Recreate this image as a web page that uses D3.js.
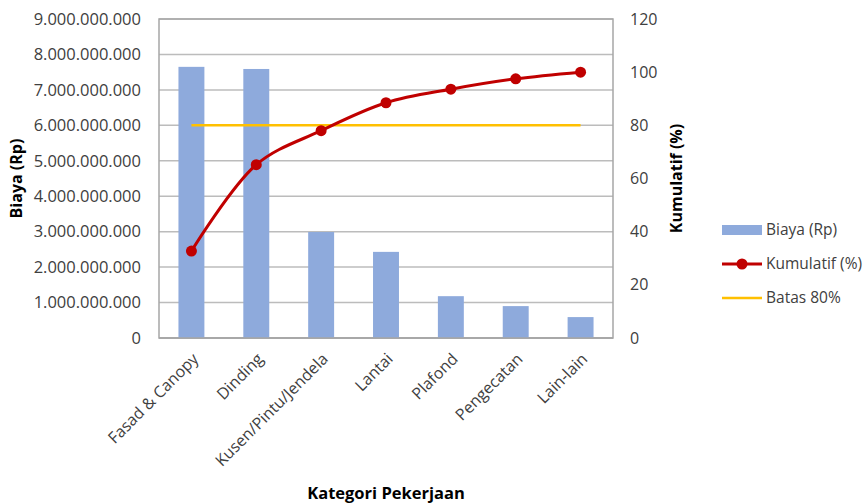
<html>
  <head>
    <meta charset="utf-8" />
    <script src="https://d3js.org/d3.v7.min.js"></script>
  </head>
  <style>
    body { margin: 0; background: #fff; }
    svg { font-family: "Open Sans", sans-serif; }
  </style>
  <body>
    <div id="viz"><svg></svg></div>
    <script>
      // data
      var categories = ["Fasad & Canopy", "Dinding", "Kusen/Pintu/Jendela", "Lantai", "Plafond", "Pengecatan", "Lain-lain"];
      var biaya = [7650000000, 7590000000, 2990000000, 2430000000, 1180000000, 900000000, 590000000];
      var kumulatif = [32.7, 65.2, 78.0, 88.5, 93.6, 97.5, 100];
      var batas = [80, 80, 80, 80, 80, 80, 80];
      var leftTicks = [0, 1e9, 2e9, 3e9, 4e9, 5e9, 6e9, 7e9, 8e9, 9e9];
      var rightTicks = [0, 20, 40, 60, 80, 100, 120];
      var legendLabels = ["Biaya (Rp)", "Kumulatif (%)", "Batas 80%"];

      var W = 866, H = 504;
      var pLeft = 159, pRight = 613, pTop = 19, pBottom = 338;

      var svg = d3.select("svg").attr("width", W).attr("height", H);

      var x = d3.scaleBand().domain(categories).range([pLeft, pRight]).paddingInner(0.6).paddingOuter(0.3);
      var yL = d3.scaleLinear().domain([0, 9e9]).range([pBottom, pTop]);
      var yR = d3.scaleLinear().domain([0, 120]).range([pBottom, pTop]);
      var cx = function (d, i) { return x(categories[i]) + x.bandwidth() / 2; };

      var fmt = function (v) {
        return d3.format(",")(v).replace(/,/g, ".");
      };

      // gridlines
      svg.append("g")
        .selectAll("line")
        .data(leftTicks)
        .enter()
        .append("line")
        .attr("x1", pLeft).attr("x2", pRight)
        .attr("y1", function (d) { return yL(d); })
        .attr("y2", function (d) { return yL(d); })
        .style("stroke", "#bcbcbc")
        .style("stroke-width", 1.5);

      // plot border
      svg.append("rect")
        .attr("x", pLeft).attr("y", pTop)
        .attr("width", pRight - pLeft).attr("height", pBottom - pTop)
        .style("fill", "none").style("stroke", "#a6a6a6").style("stroke-width", 1.5);

      // bars
      svg.append("g")
        .selectAll("rect")
        .data(biaya)
        .enter()
        .append("rect")
        .attr("x", function (d, i) { return x(categories[i]); })
        .attr("width", x.bandwidth())
        .attr("y", function (d) { return yL(d); })
        .attr("height", function (d) { return pBottom - yL(d); })
        .style("fill", "#8eaadc");

      // bottom axis line over bars
      svg.append("line")
        .attr("x1", pLeft).attr("x2", pRight).attr("y1", pBottom).attr("y2", pBottom)
        .style("stroke", "#a6a6a6").style("stroke-width", 1.5);

      // batas 80%
      svg.append("path")
        .datum(batas)
        .attr("d", d3.line().x(cx).y(function (d) { return yR(d); }))
        .style("fill", "none").style("stroke", "#ffc000").style("stroke-width", 2.5);

      // kumulatif line
      svg.append("path")
        .datum(kumulatif)
        .attr("d", d3.line().x(cx).y(function (d) { return yR(d); }).curve(d3.curveCatmullRom))
        .style("fill", "none").style("stroke", "#c00000").style("stroke-width", 3);

      svg.append("g")
        .selectAll("circle")
        .data(kumulatif)
        .enter()
        .append("circle")
        .attr("cx", cx)
        .attr("cy", function (d) { return yR(d); })
        .attr("r", 5.5)
        .style("fill", "#c00000");

      // left tick labels
      svg.append("g")
        .selectAll("text")
        .data(leftTicks)
        .enter()
        .append("text")
        .attr("x", 141)
        .attr("y", function (d) { return yL(d); })
        .attr("dy", "0.35em")
        .attr("text-anchor", "end")
        .style("font-size", "16.5px")
        .style("fill", "#404040")
        .text(fmt);

      // right tick labels
      svg.append("g")
        .selectAll("text")
        .data(rightTicks)
        .enter()
        .append("text")
        .attr("x", 630)
        .attr("y", function (d) { return yR(d); })
        .attr("dy", "0.35em")
        .style("font-size", "16px")
        .style("fill", "#404040")
        .text(function (d) { return d; });

      // category labels
      svg.append("g")
        .selectAll("text")
        .data(categories)
        .enter()
        .append("text")
        .attr("transform", function (d, i) {
          return "translate(" + (cx(d, i) + 4) + "," + (pBottom + 18) + ") rotate(-45)";
        })
        .attr("text-anchor", "end")
        .attr("dy", "0.35em")
        .style("font-size", "16px")
        .style("fill", "#404040")
        .text(function (d) { return d; });

      // axis titles
      svg.append("text")
        .attr("transform", "translate(22," + (pTop + pBottom) / 2 + ") rotate(-90)")
        .attr("text-anchor", "middle")
        .style("font-size", "16px").style("font-weight", "bold")
        .text("Biaya (Rp)");

      svg.append("text")
        .attr("transform", "translate(682," + (pTop + pBottom) / 2 + ") rotate(-90)")
        .attr("text-anchor", "middle")
        .style("font-size", "16px").style("font-weight", "bold")
        .text("Kumulatif (%)");

      svg.append("text")
        .attr("x", (pLeft + pRight) / 2)
        .attr("y", 493)
        .attr("dy", "0.35em")
        .attr("text-anchor", "middle")
        .style("font-size", "16.5px").style("font-weight", "bold")
        .text("Kategori Pekerjaan");

      // legend
      var lg = svg.append("g");
      var ly = [230, 264, 298];
      lg.append("rect").attr("x", 722).attr("y", ly[0] - 5).attr("width", 40).attr("height", 10).style("fill", "#8eaadc");
      lg.append("line").attr("x1", 722).attr("x2", 762).attr("y1", ly[1]).attr("y2", ly[1])
        .style("stroke", "#c00000").style("stroke-width", 3);
      lg.append("circle").attr("cx", 742).attr("cy", ly[1]).attr("r", 5.5).style("fill", "#c00000");
      lg.append("line").attr("x1", 722).attr("x2", 762).attr("y1", ly[2]).attr("y2", ly[2])
        .style("stroke", "#ffc000").style("stroke-width", 2.5);
      lg.selectAll("text")
        .data(legendLabels)
        .enter()
        .append("text")
        .attr("x", 766)
        .attr("y", function (d, i) { return ly[i]; })
        .attr("dy", "0.35em")
        .style("font-size", "15.5px")
        .style("fill", "#404040")
        .text(function (d) { return d; });
    </script>
  </body>
</html>
